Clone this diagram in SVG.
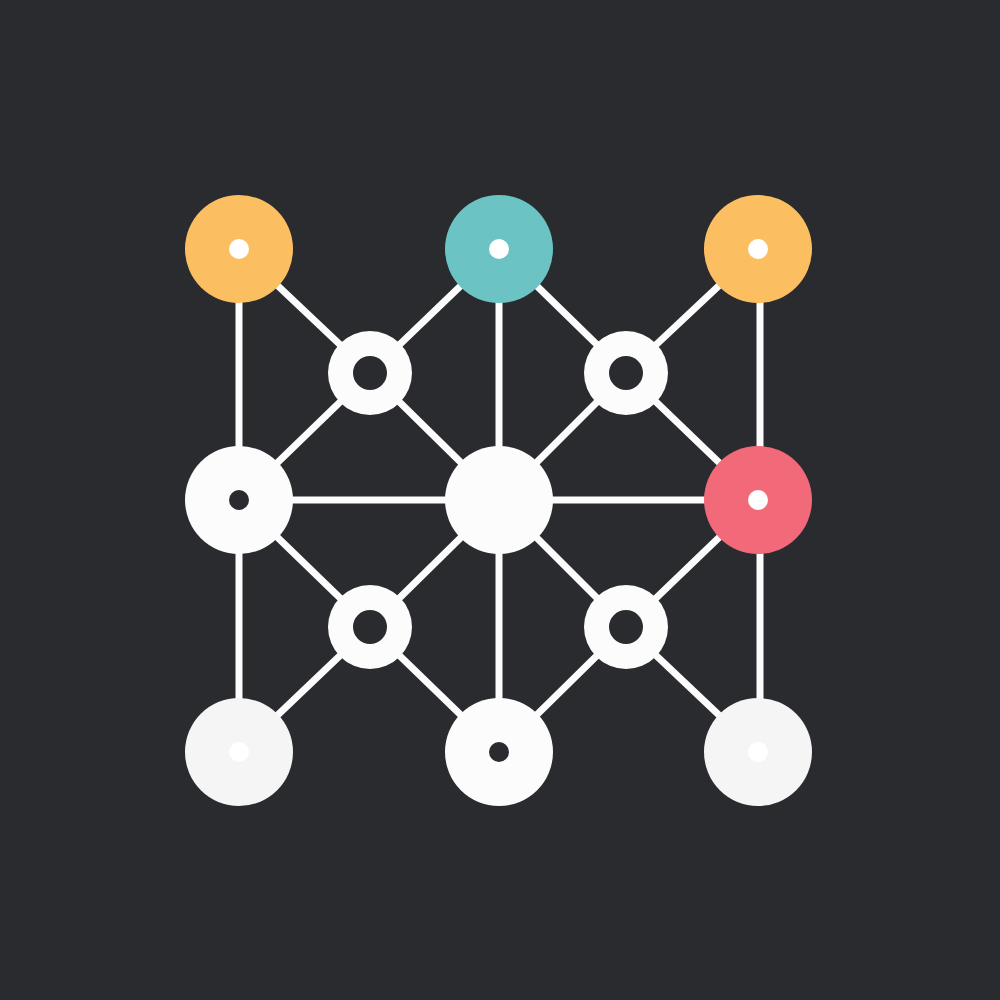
<svg xmlns="http://www.w3.org/2000/svg" width="1000" height="1000" viewBox="0 0 1000 1000">
  <style>
    .edge { stroke: #FCFCFC; stroke-width: 7; stroke-linecap: round; fill: none; }
    .white { fill: #FCFCFC; }
    .dot-light { fill: #FFFFFF; }
    .dot-dark { fill: #2A2B2F; }
    .orange { fill: #FBBF62; }
    .teal { fill: #6CC3C4; }
    .pink { fill: #F2697A; }
  </style>
  <rect x="0" y="0" width="1000" height="1000" fill="#2A2B2F"/>
  <g id="connectors">
    <line class="edge" x1="239" y1="249" x2="239" y2="752"/>
    <line class="edge" x1="499" y1="249" x2="499" y2="752"/>
    <line class="edge" x1="760" y1="249" x2="760" y2="752"/>
    <line class="edge" x1="239" y1="500" x2="758" y2="500"/>
    <line class="edge" x1="239" y1="249" x2="370" y2="373"/>
    <line class="edge" x1="370" y1="373" x2="499" y2="249"/>
    <line class="edge" x1="370" y1="373" x2="239" y2="500"/>
    <line class="edge" x1="370" y1="373" x2="499" y2="500"/>
    <line class="edge" x1="499" y1="249" x2="626" y2="373"/>
    <line class="edge" x1="626" y1="373" x2="758" y2="249"/>
    <line class="edge" x1="626" y1="373" x2="499" y2="500"/>
    <line class="edge" x1="626" y1="373" x2="758" y2="500"/>
    <line class="edge" x1="239" y1="500" x2="370" y2="627"/>
    <line class="edge" x1="370" y1="627" x2="499" y2="500"/>
    <line class="edge" x1="370" y1="627" x2="239" y2="752"/>
    <line class="edge" x1="370" y1="627" x2="499" y2="752"/>
    <line class="edge" x1="499" y1="500" x2="626" y2="627"/>
    <line class="edge" x1="626" y1="627" x2="758" y2="500"/>
    <line class="edge" x1="626" y1="627" x2="499" y2="752"/>
    <line class="edge" x1="626" y1="627" x2="758" y2="752"/>
  </g>
  <g id="node-top-left">
    <circle class="orange" cx="239" cy="249" r="54"/>
    <circle class="dot-light" cx="239" cy="249" r="10"/>
  </g>
  <g id="node-top-center">
    <circle class="teal" cx="499" cy="249" r="54"/>
    <circle class="dot-light" cx="499" cy="249" r="10"/>
  </g>
  <g id="node-top-right">
    <circle class="orange" cx="758" cy="249" r="54"/>
    <circle class="dot-light" cx="758" cy="249" r="10"/>
  </g>
  <g id="ring-top-left">
    <circle class="white" cx="370" cy="373" r="42"/>
    <circle class="dot-dark" cx="370" cy="373" r="17"/>
  </g>
  <g id="ring-top-right">
    <circle class="white" cx="626" cy="373" r="42"/>
    <circle class="dot-dark" cx="626" cy="373" r="17"/>
  </g>
  <g id="node-mid-left">
    <circle class="white" cx="239" cy="500" r="54"/>
    <circle class="dot-dark" cx="239" cy="500" r="10"/>
  </g>
  <g id="node-center">
    <circle class="white" cx="499" cy="500" r="54"/>
  </g>
  <g id="node-mid-right">
    <circle class="pink" cx="758" cy="500" r="54"/>
    <circle class="dot-light" cx="758" cy="500" r="10"/>
  </g>
  <g id="ring-bottom-left">
    <circle class="white" cx="370" cy="627" r="42"/>
    <circle class="dot-dark" cx="370" cy="627" r="17"/>
  </g>
  <g id="ring-bottom-right">
    <circle class="white" cx="626" cy="627" r="42"/>
    <circle class="dot-dark" cx="626" cy="627" r="17"/>
  </g>
  <g id="node-bottom-left">
    <circle fill="#F5F5F5" cx="239" cy="752" r="54"/>
    <circle class="dot-light" cx="239" cy="752" r="10"/>
  </g>
  <g id="node-bottom-center">
    <circle class="white" cx="499" cy="752" r="54"/>
    <circle class="dot-dark" cx="499" cy="752" r="10"/>
  </g>
  <g id="node-bottom-right">
    <circle fill="#F5F5F5" cx="758" cy="752" r="54"/>
    <circle class="dot-light" cx="758" cy="752" r="10"/>
  </g>
</svg>
